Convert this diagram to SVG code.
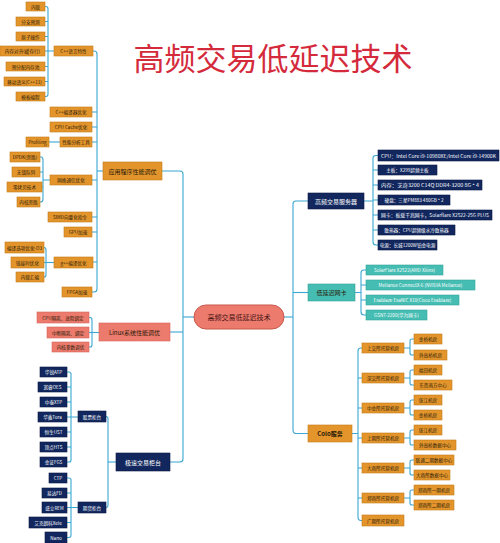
<svg xmlns="http://www.w3.org/2000/svg" width="500" height="543" viewBox="0 0 500 543">
<style>
.o{fill:#E3952C;stroke:#C77C1A;stroke-width:0.6}
.n{fill:#11275E;stroke:#0A1A45;stroke-width:0.6}
.t{fill:#45BDB3;stroke:#33A59B;stroke-width:0.6}
.s{fill:#EC7A6D;stroke:#D5665A;stroke-width:0.6}
text{font-family:"Noto Sans CJK SC","Noto Sans",sans-serif;text-anchor:middle;dominant-baseline:central;font-size:4.6px}
.d{fill:#2a1a08}
.w{fill:#ffffff}
.l1{font-size:6px}
.c line,.c path{stroke:#3AA6D2;stroke-width:1.1;fill:none}
</style>
<rect width="500" height="543" fill="#ffffff"/>
<text x="273" y="56" style="font-size:31px;fill:#D42A3B;font-family:'Noto Sans CJK SC',sans-serif">高频交易低延迟技术</text>

<g class="c" id="connectors">
<path d="M194,317 H183"/>
<path d="M162,171 H180 Q183,171 183,174 V459 Q183,462 180,462 H170"/>
<path d="M170,332 H183"/>
<path d="M93,51 H94 Q97,51 97,54 V289 Q97,292 94,292 H92"/>
<path d="M97,171 H103"/>
<path d="M92,112 H97 M92,127 H97 M92,142 H97 M92,180 H97 M92,217 H97 M92,232 H97 M93,262 H97"/>
<path d="M45,6.5 H46 Q48,6.5 48,9 V94 Q48,96.5 46,96.5 H45"/>
<path d="M45,21.5 H48 M45,36.5 H48 M45,51 H54 M45,66.5 H48 M45,81.5 H48"/>
<path d="M49,142 H60"/>
<path d="M40,157 H41 Q43,157 43,160 V199 Q43,202 41,202 H40"/>
<path d="M40,172 H43 M42,187 H43 M43,180 H50"/>
<path d="M44,247.5 H44 Q46,247.5 46,250 V275 Q46,277 44,277"/>
<path d="M44,262.5 H54"/>
<path d="M89,317.5 H90 Q92,317.5 92,320 V345 Q92,347 90,347 H89"/>
<path d="M89,332.5 H99"/>
<path d="M106,416.5 H106 Q108,416.5 108,419 V505 Q108,507.5 106,507.5"/>
<path d="M108,462 H116"/>
<path d="M67,372 H69 Q71,372 71,374 V460 Q71,462 69,462 H67"/>
<path d="M67,387 H71 M67,402 H71 M67,417 H78 M67,432 H71 M67,447 H71"/>
<path d="M67,478 H69 Q71,478 71,480 V535 Q71,537.5 69,537.5 H67"/>
<path d="M67,493 H71 M67,507.5 H78 M67,522.5 H71"/>
<path d="M284,317 H293"/>
<path d="M308,201 H296 Q293,201 293,204 V430 Q293,433.5 296,433.5 H308"/>
<path d="M293,292.5 H308"/>
<path d="M378,155.5 H376 Q373,155.5 373,158 V242 Q373,245 376,245 H378"/>
<path d="M364,201 H373 M373,170 H378 M373,185 H378 M373,200 H378 M373,215 H378 M373,230 H378"/>
<path d="M366,270 H364 Q361,270 361,273 V312 Q361,315 364,315 H366"/>
<path d="M355,292.5 H361 M361,285 H366 M361,300 H366"/>
<path d="M362,348 H361 Q358,348 358,351 V517 Q358,520.5 361,520.5 H362"/>
<path d="M352,433.5 H358 M358,378 H362 M358,408 H362 M358,438 H362 M358,468 H362 M358,498 H362"/>
<path d="M414,339 H412 Q410,339 410,341 V353 Q410,355 412,355 H414 M404,348 H410"/>
<path d="M414,370 H412 Q410,370 410,372 V383 Q410,385 412,385 H414 M404,378 H410"/>
<path d="M414,400 H412 Q410,400 410,402 V413 Q410,415 412,415 H414 M404,408 H410"/>
<path d="M414,430 H412 Q410,430 410,432 V443 Q410,445 412,445 H414 M404,438 H410"/>
<path d="M414,460 H412 Q410,460 410,462 V473 Q410,475 412,475 H414 M404,468 H410"/>
<path d="M414,490 H412 Q410,490 410,492 V503 Q410,505 412,505 H414 M404,498 H410"/>
</g>

<g id="center"><rect x="194" y="305" width="90" height="24" rx="12" fill="#EC7A6D" stroke="#C9584D" stroke-width="1"/><text x="239" y="317" style="font-size:7px;fill:#4a1414">高频交易低延迟技术</text></g>

<g id="app"><rect class="o" x="103" y="162" width="59" height="18"/><text class="d l1" x="132.5" y="171">应用程序性能调优</text></g>
<g id="cpp"><rect class="o" x="54" y="46" width="39" height="10"/><text class="d" x="73.5" y="51">C++语言特性</text></g>
<g id="cpp1"><rect class="o" x="26" y="2" width="19" height="9"/><text class="d" x="35.5" y="6.5">内联</text></g>
<g id="cpp2"><rect class="o" x="16" y="17" width="29" height="9"/><text class="d" x="30.5" y="21.5">分支预测</text></g>
<g id="cpp3"><rect class="o" x="16" y="32" width="29" height="9"/><text class="d" x="30.5" y="36.5">原子操作</text></g>
<g id="cpp4"><rect class="o" x="0" y="46" width="45" height="10"/><text class="d" x="22.5" y="51">内存对齐(缓存行)</text></g>
<g id="cpp5"><rect class="o" x="6" y="62" width="39" height="9"/><text class="d" x="25.5" y="66.5">预分配内存池</text></g>
<g id="cpp6"><rect class="o" x="4" y="77" width="41" height="9"/><text class="d" x="24.5" y="81.5">移动语义(C++11)</text></g>
<g id="cpp7"><rect class="o" x="16" y="92" width="29" height="9"/><text class="d" x="30.5" y="96.5">模板编程</text></g>
<g id="comp"><rect class="o" x="50" y="107" width="42" height="10"/><text class="d" x="71" y="112">C++编译器优化</text></g>
<g id="cache"><rect class="o" x="50" y="122" width="42" height="10"/><text class="d" x="71" y="127">CPU Cache优化</text></g>
<g id="prof"><rect class="o" x="60" y="137" width="32" height="10"/><text class="d" x="76" y="142">性能分析工具</text></g>
<g id="prof1"><rect class="o" x="26" y="137" width="23" height="10"/><text class="d" x="37.5" y="142">Profiling</text></g>
<g id="net"><rect class="o" x="50" y="175" width="42" height="10"/><text class="d" x="71" y="180">网络通信优化</text></g>
<g id="net1"><rect class="o" x="10" y="152" width="30" height="10"/><text class="d" x="25" y="157">DPDK(旁路)</text></g>
<g id="net2"><rect class="o" x="12" y="167" width="28" height="10"/><text class="d" x="26" y="172">无锁队列</text></g>
<g id="net3"><rect class="o" x="7" y="182" width="35" height="10"/><text class="d" x="24.5" y="187">零拷贝技术</text></g>
<g id="net4"><rect class="o" x="17" y="197" width="23" height="10"/><text class="d" x="28.5" y="202">内核旁路</text></g>
<g id="simd"><rect class="o" x="48" y="212" width="44" height="10"/><text class="d" x="70" y="217">SIMD向量化指令</text></g>
<g id="gpu"><rect class="o" x="64" y="227" width="28" height="10"/><text class="d" x="78" y="232">GPU加速</text></g>
<g id="gpp"><rect class="o" x="54" y="257" width="39" height="11"/><text class="d" x="73.5" y="262.5">g++编译优化</text></g>
<g id="gpp1"><rect class="o" x="5" y="242" width="39" height="11"/><text class="d" x="24.5" y="247.5">编译选项优化-O3</text></g>
<g id="gpp2"><rect class="o" x="11" y="257" width="33" height="11"/><text class="d" x="27.5" y="262.5">链接时优化</text></g>
<g id="gpp3"><rect class="o" x="16" y="272" width="28" height="10"/><text class="d" x="30" y="277">内联汇编</text></g>
<g id="fpga"><rect class="o" x="62" y="287" width="30" height="10"/><text class="d" x="77" y="292">FPGA加速</text></g>

<g id="linux"><rect class="s" x="99" y="323" width="71" height="18"/><text class="d l1" x="134.5" y="332">Linux系统性能调优</text></g>
<g id="lx1"><rect class="s" x="37" y="312" width="52" height="11"/><text class="d" x="63" y="317.5">CPU隔离、进程绑定</text></g>
<g id="lx2"><rect class="s" x="47" y="327" width="42" height="11"/><text class="d" x="68" y="332.5">中断隔离、绑定</text></g>
<g id="lx3"><rect class="s" x="52" y="342" width="37" height="10"/><text class="d" x="70.5" y="347">内核参数调优</text></g>

<g id="counter"><rect class="n" x="116" y="453" width="54" height="18"/><text class="w l1" x="143" y="462">极速交易柜台</text></g>
<g id="stock"><rect class="n" x="78" y="411" width="28" height="11"/><text class="w" x="92" y="416.5">股票柜台</text></g>
<g id="fut"><rect class="n" x="78" y="502" width="28" height="11"/><text class="w" x="92" y="507.5">期货柜台</text></g>
<g id="s1"><rect class="n" x="40" y="367" width="27" height="10"/><text class="w" x="53.5" y="372">华锐ATP</text></g>
<g id="s2"><rect class="n" x="38" y="382" width="29" height="10"/><text class="w" x="52.5" y="387">宽睿OES</text></g>
<g id="s3"><rect class="n" x="40" y="397" width="27" height="10"/><text class="w" x="53.5" y="402">中泰XTP</text></g>
<g id="s4"><rect class="n" x="38" y="412" width="29" height="10"/><text class="w" x="52.5" y="417">华鑫Tora</text></g>
<g id="s5"><rect class="n" x="40" y="427" width="27" height="10"/><text class="w" x="53.5" y="432">恒生UST</text></g>
<g id="s6"><rect class="n" x="40" y="442" width="27" height="10"/><text class="w" x="53.5" y="447">顶点HTS</text></g>
<g id="s7"><rect class="n" x="40" y="457" width="27" height="10"/><text class="w" x="53.5" y="462">金证FGS</text></g>
<g id="f1"><rect class="n" x="49" y="473" width="18" height="10"/><text class="w" x="58" y="478">CTP</text></g>
<g id="f2"><rect class="n" x="42" y="488" width="25" height="10"/><text class="w" x="54.5" y="493">易达FD</text></g>
<g id="f3"><rect class="n" x="42" y="502" width="25" height="11"/><text class="w" x="54.5" y="507.5">盛立REM</text></g>
<g id="f4"><rect class="n" x="29" y="517" width="38" height="11"/><text class="w" x="48" y="522.5">艾克朗科Xele</text></g>
<g id="f5"><rect class="n" x="45" y="532" width="22" height="11"/><text class="w" x="56" y="537.5">Nano</text></g>

<g id="server"><rect class="n" x="308" y="193" width="56" height="16"/><text class="w l1" x="336" y="201">高频交易服务器</text></g>
<g id="sv1"><rect class="n" x="378" y="150" width="121" height="11"/><text class="w" x="438.5" y="155.5" textLength="115" lengthAdjust="spacingAndGlyphs">CPU：Intel Core i9-10980XE/Intel Core i9-14900K</text></g>
<g id="sv2"><rect class="n" x="378" y="165" width="59" height="10"/><text class="w" x="407.5" y="170">主板：X299超频主板</text></g>
<g id="sv3"><rect class="n" x="378" y="180" width="104" height="10"/><text class="w" x="430" y="185" textLength="98" lengthAdjust="spacingAndGlyphs">内存：芝奇3200 C14Q DDR4-3200 8G * 4</text></g>
<g id="sv4"><rect class="n" x="378" y="195" width="72" height="10"/><text class="w" x="414" y="200">硬盘：三星PM883 480GB * 2</text></g>
<g id="sv5"><rect class="n" x="378" y="210" width="114" height="10"/><text class="w" x="435" y="215" textLength="108" lengthAdjust="spacingAndGlyphs">网卡：板载千兆网卡，Solarflare X2522-25G PLUS</text></g>
<g id="sv6"><rect class="n" x="378" y="225" width="77" height="10"/><text class="w" x="416.5" y="230">散热器：CPU超频级水冷散热器</text></g>
<g id="sv7"><rect class="n" x="378" y="240" width="59" height="10"/><text class="w" x="407.5" y="245">电源：长城1200W铂金电源</text></g>

<g id="nic"><rect class="t" x="308" y="284" width="47" height="17"/><text class="d l1" x="331.5" y="292.5">低延迟网卡</text></g>
<g id="nc1"><rect class="t" x="366" y="265" width="77" height="10"/><text class="w" x="404.5" y="270">SolarFlare X2522(AMD Xilinx)</text></g>
<g id="nc2"><rect class="t" x="366" y="280" width="109" height="10"/><text class="w" x="420.5" y="285">Mellanox ConnectX-6 (NVIDIA Mellanox)</text></g>
<g id="nc3"><rect class="t" x="366" y="295" width="93" height="10"/><text class="w" x="412.5" y="300">Exablaze ExaNIC X10(Cisco Exablaze)</text></g>
<g id="nc4"><rect class="t" x="366" y="310" width="61" height="10"/><text class="w" x="396.5" y="315">GSNT-2200(华为网卡)</text></g>

<g id="colo"><rect class="o" x="308" y="425" width="44" height="17"/><text class="d l1" x="330" y="433.5" style="font-weight:bold">Colo服务</text></g>
<g id="c1"><rect class="o" x="362" y="343" width="42" height="10"/><text class="d" x="383" y="348">上交所托管机房</text></g>
<g id="c2"><rect class="o" x="362" y="373" width="42" height="10"/><text class="d" x="383" y="378">深交所托管机房</text></g>
<g id="c3"><rect class="o" x="362" y="403" width="42" height="10"/><text class="d" x="383" y="408">中金所托管机房</text></g>
<g id="c4"><rect class="o" x="362" y="433" width="42" height="10"/><text class="d" x="383" y="438">上期所托管机房</text></g>
<g id="c5"><rect class="o" x="362" y="463" width="42" height="10"/><text class="d" x="383" y="468">大商所托管机房</text></g>
<g id="c6"><rect class="o" x="362" y="493" width="42" height="10"/><text class="d" x="383" y="498">郑商所托管机房</text></g>
<g id="c7"><rect class="o" x="362" y="515" width="42" height="11"/><text class="d" x="383" y="520.5">广期所托管机房</text></g>
<g id="c1a"><rect class="o" x="414" y="334" width="28" height="10"/><text class="d" x="428" y="339">金桥机房</text></g>
<g id="c1b"><rect class="o" x="414" y="350" width="33" height="10"/><text class="d" x="430.5" y="355">外高桥机房</text></g>
<g id="c2a"><rect class="o" x="414" y="365" width="28" height="10"/><text class="d" x="428" y="370">福田机房</text></g>
<g id="c2b"><rect class="o" x="414" y="380" width="38" height="10"/><text class="d" x="433" y="385">东莞南方中心</text></g>
<g id="c3a"><rect class="o" x="414" y="395" width="28" height="10"/><text class="d" x="428" y="400">张江机房</text></g>
<g id="c3b"><rect class="o" x="414" y="410" width="28" height="10"/><text class="d" x="428" y="415">金桥机房</text></g>
<g id="c4a"><rect class="o" x="414" y="425" width="28" height="10"/><text class="d" x="428" y="430">张江机房</text></g>
<g id="c4b"><rect class="o" x="414" y="440" width="42" height="10"/><text class="d" x="435" y="445">外高桥数据中心</text></g>
<g id="c5a"><rect class="o" x="414" y="455" width="40" height="10"/><text class="d" x="434" y="460">联通二期数据中心</text></g>
<g id="c5b"><rect class="o" x="414" y="470" width="36" height="10"/><text class="d" x="432" y="475">大商所数据中心</text></g>
<g id="c6a"><rect class="o" x="414" y="485" width="40" height="10"/><text class="d" x="434" y="490">郑商所一期机房</text></g>
<g id="c6b"><rect class="o" x="414" y="500" width="40" height="10"/><text class="d" x="434" y="505">郑商所二期机房</text></g>
</svg>
